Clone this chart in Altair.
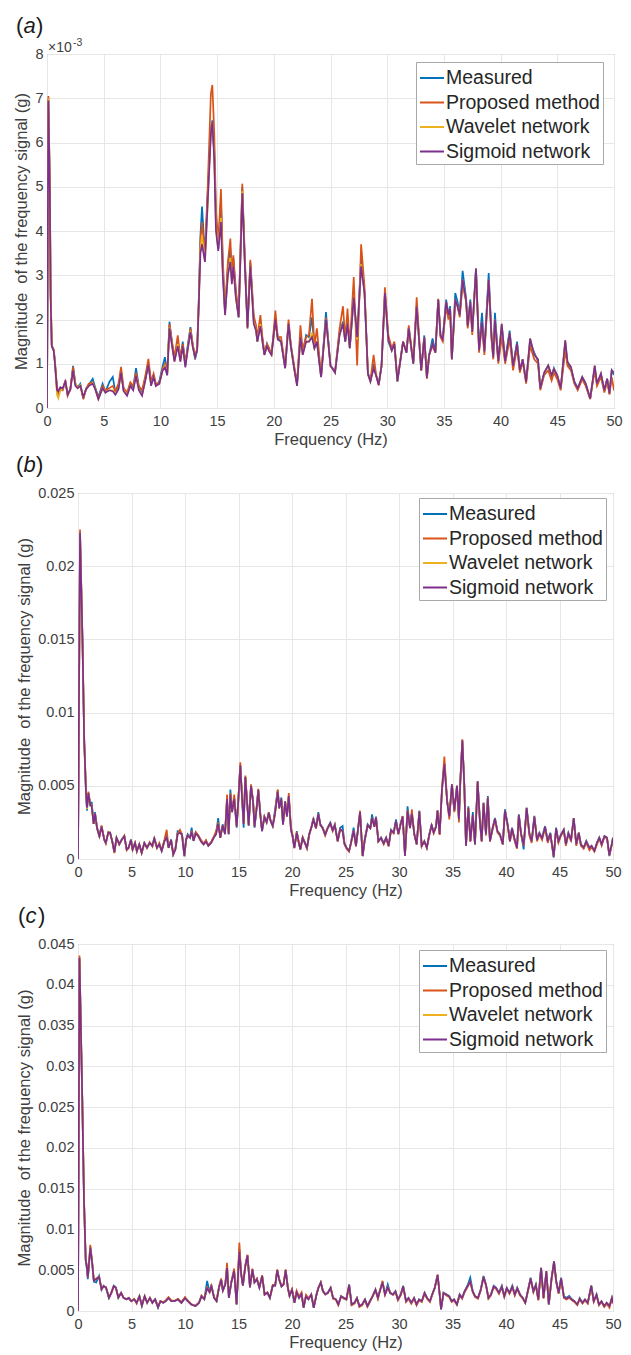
import altair as alt
import pandas as pd

FONT = "Liberation Sans"
SERIES = ["Measured", "Proposed method", "Wavelet network", "Sigmoid network"]
COLORS = ["#0072BD", "#D95319", "#EDB120", "#7E2F8E"]
FREQ_TICKS = [0, 5, 10, 15, 20, 25, 30, 35, 40, 45, 50]
Y_TITLE = "Magnitude \u00a0of the frequency signal (g)"

# ---------------- panel (a): magnitudes in 1e-3 g ----------------
FREQ_A = [
    0.0, 0.12, 0.25, 0.32, 0.42, 0.6, 0.7, 0.88, 1.0, 1.18,
    1.38, 1.62, 1.82, 2.06, 2.3, 2.5, 2.7, 2.94, 3.2, 3.44,
    3.68, 4.03, 4.26, 4.53, 4.9, 5.15, 5.5, 5.8, 6.03, 6.3,
    6.53, 6.76, 7.06, 7.35, 7.6, 7.85, 8.1, 8.38, 8.65, 8.94,
    9.18, 9.4, 9.6, 9.9, 10.2, 10.4, 10.6, 10.8, 11.03, 11.24,
    11.53, 11.76, 11.97, 12.2, 12.4, 12.65, 12.85, 13.06, 13.24, 13.38,
    13.53, 13.67, 13.93, 14.2, 14.45, 14.58, 14.75, 14.9, 15.1, 15.34,
    15.5, 15.7, 15.95, 16.17, 16.3, 16.43, 16.65, 16.9, 17.05, 17.22,
    17.45, 17.68, 17.93, 18.23, 18.43, 18.55, 18.82, 19.0, 19.17, 19.4,
    19.6, 19.8, 20.14, 20.35, 20.64, 21.0, 21.3, 21.5, 21.8, 22.05,
    22.35, 22.55, 22.85, 23.1, 23.37, 23.58, 23.8, 24.17, 24.6, 25.0,
    25.2, 25.4, 25.8, 26.1, 26.3, 26.5, 26.7, 27.05, 27.35, 27.7,
    28.0, 28.3, 28.52, 28.8, 29.0, 29.25, 29.5, 29.8, 30.1, 30.4,
    30.63, 30.9, 31.4, 31.7, 31.9, 32.3, 32.6, 33.0, 33.27, 33.5,
    33.7, 34.0, 34.25, 34.5, 34.7, 34.9, 35.2, 35.4, 35.55, 35.7,
    36.0, 36.2, 36.4, 36.65, 36.95, 37.1, 37.33, 37.5, 37.83, 38.1,
    38.36, 38.57, 38.95, 39.2, 39.35, 39.5, 39.8, 40.1, 40.4, 40.8,
    41.1, 41.45, 41.7, 41.95, 42.25, 42.6, 42.97, 43.3, 43.5, 43.85,
    44.2, 44.5, 44.7, 45.0, 45.3, 45.7, 45.9, 46.2, 46.5, 46.8,
    47.2, 47.5, 47.9, 48.3, 48.5, 48.85, 49.15, 49.4, 49.6, 49.8,
    50.0,
]
MEAS_A = [
    0, 7.0, 5.0, 2.6, 1.42, 1.3, 1.04, 0.44, 0.3, 0.45,
    0.42, 0.6, 0.3, 0.42, 0.95, 0.55, 0.47, 0.55, 0.22, 0.44,
    0.52, 0.66, 0.46, 0.25, 0.55, 0.36, 0.59, 0.7, 0.36, 0.47,
    0.8, 0.4, 0.3, 0.55, 0.44, 0.9, 0.47, 0.32, 0.66, 1.0,
    0.55, 0.74, 0.5, 0.6, 0.95, 1.15, 0.74, 1.95, 1.45, 1.1,
    1.5, 1.1, 1.5, 0.96, 1.4, 1.83, 1.42, 1.1, 1.3, 2.4,
    3.9, 4.55, 3.45, 5.0, 6.3, 6.5, 5.8, 4.3, 3.6, 4.7,
    3.2, 2.15, 3.2, 3.6, 2.9, 3.4, 2.6, 2.05, 3.4, 5.0,
    3.3, 1.85, 3.3, 2.0, 1.8, 1.5, 1.95, 1.55, 1.2, 1.45,
    1.3, 1.25, 1.95, 1.6, 1.5, 0.9, 1.9, 1.4, 0.9, 0.55,
    1.65, 1.25, 1.65, 1.6, 2.05, 1.35, 1.5, 0.7, 2.17, 0.95,
    0.9, 0.8, 1.7, 1.95, 1.5, 1.95, 1.35, 2.5, 1.6, 3.4,
    2.6, 0.8, 0.6, 1.0, 0.75, 0.55, 0.95, 2.6, 1.5, 1.3,
    1.45, 0.6, 1.5, 1.25, 1.8, 1.0, 2.3, 0.85, 1.64, 0.7,
    1.2, 1.57, 1.27, 2.45, 1.65, 1.6, 2.45, 2.1, 2.3, 1.1,
    2.6, 2.4, 2.15, 3.1, 2.5, 1.9, 2.45, 1.75, 3.15, 1.35,
    2.15, 1.3, 3.05, 1.65, 1.2, 2.15, 1.1, 1.85, 1.1, 1.75,
    0.95, 1.5, 0.85, 1.1, 0.6, 1.5, 1.25, 1.05, 0.45, 0.8,
    0.96, 0.7, 0.9, 0.72, 0.45, 1.45, 1.0, 0.9, 0.6, 0.45,
    0.7, 0.55, 0.22, 0.9, 0.55, 0.75, 0.4, 0.66, 0.33, 0.85,
    0.75,
]
PROP_A = [
    0, 7.05, 5.1, 2.7, 1.4, 1.32, 1.05, 0.5, 0.35, 0.42,
    0.4, 0.63, 0.28, 0.44, 0.93, 0.55, 0.45, 0.5, 0.2, 0.42,
    0.55, 0.58, 0.44, 0.22, 0.5, 0.4, 0.45, 0.5, 0.38, 0.55,
    0.93, 0.45, 0.35, 0.58, 0.5, 0.8, 0.5, 0.4, 0.7, 1.11,
    0.6, 0.78, 0.55, 0.55, 0.9, 1.0, 0.78, 1.9, 1.5, 1.15,
    1.64, 1.15, 1.45, 1.05, 1.34, 1.8, 1.45, 1.19, 1.34, 2.4,
    3.8, 4.2, 3.45, 5.2, 7.1, 7.3, 6.2, 4.5, 3.7, 4.95,
    3.4, 2.2, 3.3, 3.83, 3.0, 3.45, 2.7, 2.1, 3.5, 5.07,
    3.4, 1.83, 3.35, 2.1, 1.87, 1.6, 2.1, 1.6, 1.25, 1.45,
    1.35, 1.2, 2.2, 1.6, 1.6, 0.95, 2.0, 1.45, 0.95, 0.55,
    1.87, 1.3, 1.6, 1.65, 2.47, 1.4, 1.8, 0.72, 2.05, 0.96,
    0.88, 0.82, 1.8, 2.3, 1.55, 2.25, 1.4, 2.96, 0.96, 3.7,
    2.75, 0.75, 0.62, 1.2, 0.8, 0.51, 0.96, 2.73, 1.65, 1.35,
    1.5, 0.65, 1.5, 1.27, 1.87, 1.04, 2.5, 0.85, 1.6, 0.66,
    1.2, 1.4, 1.25, 2.47, 1.6, 1.5, 2.3, 2.0, 2.2, 1.1,
    2.4, 2.3, 2.05, 2.8, 2.4, 1.8, 2.3, 1.65, 3.1, 1.25,
    1.9, 1.2, 2.85, 1.55, 1.1, 1.9, 1.0, 1.6, 1.0, 1.55,
    0.85, 1.35, 0.8, 1.05, 0.55, 1.4, 1.1, 1.0, 0.4, 0.75,
    0.85, 0.62, 0.8, 0.65, 0.4, 1.3, 0.95, 0.85, 0.55, 0.4,
    0.65, 0.5, 0.2, 0.85, 0.5, 0.7, 0.35, 0.6, 0.3, 0.7,
    0.4,
]
WAVE_A = [
    0, 7.0, 5.0, 2.6, 1.4, 1.3, 1.0, 0.3, 0.22, 0.4,
    0.42, 0.6, 0.3, 0.42, 0.85, 0.55, 0.45, 0.52, 0.25, 0.42,
    0.5, 0.56, 0.42, 0.2, 0.45, 0.36, 0.4, 0.4, 0.32, 0.42,
    0.8, 0.4, 0.3, 0.5, 0.42, 0.72, 0.42, 0.3, 0.6, 0.98,
    0.52, 0.7, 0.5, 0.55, 0.85, 0.95, 0.75, 1.82, 1.4, 1.05,
    1.45, 1.05, 1.4, 0.95, 1.3, 1.75, 1.4, 1.15, 1.3, 2.3,
    3.6, 3.9, 3.3, 4.8, 6.2, 6.45, 5.7, 4.1, 3.6, 4.3,
    3.1, 2.1, 3.0, 3.4, 2.85, 3.2, 2.5, 2.05, 3.3, 4.9,
    3.2, 1.8, 3.2, 1.95, 1.75, 1.5, 1.9, 1.5, 1.2, 1.4,
    1.28, 1.2, 1.95, 1.55, 1.5, 0.9, 1.9, 1.4, 0.88, 0.5,
    1.6, 1.2, 1.5, 1.5, 1.7, 1.35, 1.5, 0.7, 2.0, 0.95,
    0.88, 0.8, 1.65, 1.9, 1.5, 1.9, 1.35, 2.5, 1.55, 3.25,
    2.6, 0.78, 0.6, 0.9, 0.75, 0.52, 0.95, 2.6, 1.55, 1.3,
    1.45, 0.6, 1.5, 1.25, 1.8, 1.0, 2.3, 0.85, 1.6, 0.68,
    1.2, 1.45, 1.25, 2.45, 1.64, 1.55, 2.4, 2.1, 2.25, 1.1,
    2.45, 2.3, 2.1, 2.9, 2.45, 1.85, 2.4, 1.7, 3.15, 1.3,
    1.95, 1.27, 2.9, 1.6, 1.15, 2.0, 1.05, 1.9, 1.05, 1.7,
    0.95, 1.45, 0.85, 1.1, 0.59, 1.57, 1.2, 1.1, 0.44, 0.8,
    0.96, 0.74, 0.88, 0.74, 0.44, 1.53, 1.04, 0.93, 0.59, 0.44,
    0.7, 0.55, 0.21, 0.96, 0.55, 0.78, 0.4, 0.66, 0.33, 0.85,
    0.8,
]
SIGM_A = [
    0, 6.95, 4.9, 2.5, 1.4, 1.28, 1.0, 0.4, 0.38, 0.47,
    0.44, 0.6, 0.3, 0.42, 0.85, 0.5, 0.45, 0.5, 0.25, 0.42,
    0.5, 0.55, 0.42, 0.2, 0.45, 0.35, 0.4, 0.38, 0.3, 0.42,
    0.8, 0.38, 0.28, 0.5, 0.4, 0.72, 0.4, 0.28, 0.6, 0.98,
    0.5, 0.7, 0.5, 0.55, 0.85, 0.92, 0.74, 1.8, 1.4, 1.05,
    1.4, 1.05, 1.4, 0.92, 1.3, 1.72, 1.38, 1.15, 1.3, 2.3,
    3.5, 3.7, 3.3, 4.8, 6.2, 6.45, 5.6, 4.0, 3.55, 4.2,
    3.0, 2.1, 3.0, 3.3, 2.8, 3.2, 2.5, 2.05, 3.3, 4.85,
    3.2, 1.8, 3.2, 1.9, 1.75, 1.5, 1.85, 1.5, 1.2, 1.4,
    1.28, 1.2, 2.0, 1.55, 1.5, 0.9, 1.9, 1.4, 0.88, 0.5,
    1.6, 1.2, 1.5, 1.5, 1.6, 1.35, 1.5, 0.7, 2.0, 0.95,
    0.88, 0.8, 1.65, 1.9, 1.5, 1.9, 1.35, 2.5, 1.6, 3.2,
    2.6, 0.78, 0.6, 0.9, 0.75, 0.52, 0.95, 2.6, 1.55, 1.3,
    1.45, 0.6, 1.5, 1.25, 1.8, 1.0, 2.3, 0.85, 1.6, 0.68,
    1.2, 1.45, 1.25, 2.45, 1.64, 1.55, 2.4, 2.1, 2.25, 1.1,
    2.45, 2.3, 2.1, 2.9, 2.45, 1.85, 2.4, 1.72, 3.15, 1.3,
    1.95, 1.27, 2.9, 1.6, 1.15, 2.0, 1.05, 1.9, 1.05, 1.7,
    0.95, 1.45, 0.85, 1.1, 0.59, 1.57, 1.2, 1.1, 0.44, 0.8,
    0.96, 0.74, 0.88, 0.74, 0.44, 1.53, 1.04, 0.93, 0.59, 0.44,
    0.7, 0.55, 0.21, 0.96, 0.55, 0.78, 0.4, 0.66, 0.33, 0.85,
    0.8,
]

# ---------------- panel (b): magnitudes in 1e-3 g ----------------
FREQ_B = [
    0.0, 0.19, 0.42, 0.58, 0.75, 0.84, 0.97, 1.15, 1.28, 1.46,
    1.59, 1.78, 2.0, 2.2, 2.46, 2.6, 2.83, 3.0, 3.2, 3.4,
    3.6, 3.86, 4.08, 4.33, 4.55, 4.73, 4.95, 5.1, 5.33, 5.5,
    5.73, 5.95, 6.2, 6.45, 6.7, 6.95, 7.13, 7.38, 7.6, 7.82,
    8.07, 8.29, 8.47, 8.7, 8.9, 9.1, 9.31, 9.53, 9.72, 9.94,
    10.1, 10.25, 10.47, 10.62, 10.8, 11.0, 11.25, 11.5, 11.74, 11.96,
    12.18, 12.43, 12.68, 12.9, 13.1, 13.3, 13.52, 13.74, 13.93, 14.08,
    14.24, 14.4, 14.6, 14.83, 15.0, 15.17, 15.33, 15.48, 15.64, 15.8,
    15.95, 16.17, 16.36, 16.5, 16.7, 16.85, 17.04, 17.2, 17.42, 17.63,
    17.83, 18.0, 18.2, 18.4, 18.67, 18.8, 19.0, 19.16, 19.36, 19.53,
    19.7, 19.9, 20.05, 20.22, 20.45, 20.6, 20.78, 21.0, 21.2, 21.4,
    21.6, 21.83, 22.0, 22.24, 22.46, 22.65, 22.87, 23.1, 23.33, 23.58,
    23.8, 24.0, 24.27, 24.5, 24.73, 24.9, 25.1, 25.33, 25.5, 25.76,
    25.98, 26.36, 26.6, 26.8, 27.07, 27.32, 27.48, 27.7, 27.85, 28.07,
    28.32, 28.57, 28.8, 29.03, 29.25, 29.5, 29.72, 29.94, 30.13, 30.34,
    30.56, 30.8, 31.03, 31.2, 31.43, 31.65, 31.9, 32.12, 32.37, 32.6,
    32.83, 33.05, 33.24, 33.46, 33.6, 33.8, 34.02, 34.24, 34.5, 34.7,
    34.95, 35.17, 35.42, 35.6, 35.73, 35.92, 36.1, 36.26, 36.48, 36.67,
    36.9, 37.1, 37.35, 37.57, 37.73, 37.9, 38.13, 38.3, 38.5, 38.75,
    38.97, 39.2, 39.44, 39.7, 39.9, 40.16, 40.37, 40.56, 40.78, 41.03,
    41.2, 41.4, 41.65, 41.93, 42.18, 42.4, 42.65, 42.9, 43.12, 43.37,
    43.65, 43.9, 44.14, 44.46, 44.68, 44.9, 45.14, 45.4, 45.6, 45.83,
    46.08, 46.33, 46.57, 46.8, 47.0, 47.26, 47.5, 47.8, 48.0, 48.26,
    48.5, 48.72, 48.94, 49.2, 49.44, 49.66, 49.88, 50.0,
]
MEAS_B = [
    0, 22.2, 14.9, 8.1, 4.4, 3.3, 4.5, 3.6, 3.9, 2.4,
    3.2, 2.1, 1.6, 2.25, 1.34, 1.1, 1.8, 1.8, 1.23, 0.5,
    1.46, 1.0, 1.34, 1.57, 0.66, 0.77, 1.34, 0.66, 1.1, 0.55,
    1.0, 0.43, 1.1, 0.77, 1.1, 0.9, 1.45, 0.77, 1.0, 0.55,
    1.23, 1.6, 0.77, 1.34, 0.32, 0.66, 1.9, 1.85, 1.7, 0.2,
    1.34, 1.7, 1.46, 2.14, 1.23, 1.8, 1.57, 1.23, 1.0, 1.23,
    0.9, 1.1, 1.46, 1.7, 2.8, 1.46, 2.37, 1.7, 4.0, 1.7,
    4.75, 3.2, 4.2, 2.14, 4.2, 6.4, 4.2, 2.14, 5.6, 3.96,
    2.25, 5.0, 3.96, 2.14, 3.5, 4.75, 3.05, 1.9, 2.9, 2.5,
    3.2, 2.6, 2.25, 3.3, 4.7, 3.5, 4.2, 2.37, 3.96, 2.9,
    4.3, 2.0, 1.57, 0.77, 1.9, 1.23, 0.66, 1.46, 1.1, 0.77,
    1.7, 2.25, 2.8, 2.14, 3.2, 2.37, 2.14, 1.7, 2.14, 2.5,
    2.0, 2.37, 1.23, 2.14, 2.25, 1.1, 0.77, 0.55, 1.1, 2.14,
    0.9, 3.1, 0.2, 1.34, 2.37, 2.14, 3.05, 2.25, 2.9, 1.23,
    1.46, 1.1, 1.46, 0.9, 2.0, 1.8, 2.7, 1.7, 2.37, 2.9,
    0.2, 3.6, 2.14, 3.1, 1.7, 1.0, 3.3, 0.9, 1.23, 0.77,
    1.7, 2.37, 1.8, 2.25, 3.3, 1.7, 4.7, 6.5, 3.96, 2.94,
    5.1, 3.3, 5.0, 2.7, 5.3, 8.1, 5.1, 0.9, 3.6, 1.23,
    3.2, 1.0, 5.3, 2.5, 1.23, 3.85, 1.7, 4.3, 1.23, 2.14,
    2.8, 1.9, 1.7, 1.0, 3.4, 2.37, 1.23, 2.14, 1.46, 0.77,
    3.05, 1.8, 0.66, 3.5, 1.8, 1.23, 2.94, 1.34, 1.8, 1.46,
    2.25, 1.23, 1.8, 0.1, 2.14, 1.23, 1.7, 2.0, 1.0, 1.8,
    1.34, 2.8, 1.0, 1.8, 1.0, 0.77, 1.23, 0.77, 0.9, 0.55,
    1.1, 1.46, 1.0, 1.57, 1.46, 0.2, 1.0, 1.46,
]
PROP_B = [
    0, 22.5, 15.0, 8.2, 4.6, 3.6, 4.6, 3.8, 3.7, 2.4,
    3.1, 2.2, 1.5, 2.3, 1.3, 1.05, 1.85, 1.75, 1.2, 0.4,
    1.4, 1.0, 1.3, 1.6, 0.6, 0.75, 1.3, 0.6, 1.1, 0.5,
    1.0, 0.4, 1.05, 0.75, 1.15, 0.85, 1.35, 0.75, 1.1, 0.6,
    1.3, 2.0, 0.75, 1.3, 0.35, 0.7, 1.75, 2.0, 1.7, 0.3,
    1.3, 1.6, 1.5, 1.9, 1.3, 1.85, 1.6, 1.3, 1.05, 1.3,
    0.95, 1.15, 1.5, 1.9, 2.5, 1.5, 2.3, 1.75, 4.4, 1.8,
    4.5, 3.3, 4.4, 2.3, 4.3, 6.6, 4.3, 2.5, 5.7, 4.0,
    2.4, 5.1, 4.0, 2.3, 3.6, 4.8, 3.1, 2.0, 2.9, 2.55,
    3.2, 2.65, 2.3, 3.1, 4.75, 3.5, 4.1, 2.4, 3.9, 2.95,
    4.5, 2.2, 1.7, 0.8, 1.85, 1.3, 0.7, 1.5, 1.1, 0.7,
    1.6, 2.2, 2.7, 2.1, 3.0, 2.3, 2.1, 1.6, 2.1, 2.4,
    1.9, 2.3, 1.2, 2.0, 1.9, 1.0, 0.7, 0.5, 1.0, 1.9,
    0.85, 3.3, 0.2, 1.3, 2.3, 2.1, 2.8, 2.2, 2.85, 1.2,
    1.4, 1.0, 1.4, 0.85, 1.9, 1.75, 2.5, 1.7, 2.3, 2.94,
    0.3, 3.3, 2.1, 3.4, 1.7, 1.0, 3.2, 0.85, 1.2, 0.75,
    1.6, 2.3, 1.75, 2.2, 3.3, 1.65, 4.9, 7.0, 4.0, 2.7,
    5.1, 3.2, 5.0, 2.5, 5.3, 8.17, 5.1, 0.9, 3.5, 1.2,
    3.0, 1.0, 5.2, 2.4, 1.2, 3.8, 1.6, 4.2, 1.2, 2.0,
    2.7, 1.8, 1.6, 1.0, 3.3, 2.2, 1.2, 2.0, 1.3, 0.7,
    3.0, 1.7, 0.9, 3.4, 1.6, 1.1, 2.8, 1.2, 1.7, 1.3,
    2.1, 1.1, 1.7, 0.2, 2.0, 1.1, 1.6, 1.9, 0.9, 1.7,
    1.2, 2.7, 0.9, 1.7, 0.9, 0.7, 1.1, 0.6, 0.8, 0.5,
    1.0, 1.4, 0.9, 1.5, 1.4, 0.3, 0.9, 1.3,
]
WAVE_B = [
    0, 22.3, 14.9, 8.1, 4.5, 3.4, 4.5, 3.7, 3.6, 2.4,
    3.1, 2.1, 1.55, 2.2, 1.3, 1.1, 1.8, 1.8, 1.2, 0.45,
    1.45, 1.0, 1.3, 1.55, 0.65, 0.77, 1.3, 0.65, 1.1, 0.55,
    1.0, 0.42, 1.1, 0.77, 1.1, 0.9, 1.4, 0.77, 1.0, 0.55,
    1.2, 1.5, 0.77, 1.3, 0.3, 0.65, 1.7, 1.8, 1.65, 0.2,
    1.3, 1.6, 1.45, 1.85, 1.25, 1.75, 1.55, 1.2, 1.0, 1.2,
    0.9, 1.1, 1.45, 1.7, 2.4, 1.45, 2.3, 1.7, 4.1, 1.7,
    4.4, 3.2, 4.1, 2.2, 4.2, 6.4, 4.2, 2.4, 5.6, 3.9,
    2.3, 5.0, 3.9, 2.2, 3.5, 4.7, 3.0, 1.9, 2.85, 2.5,
    3.15, 2.6, 2.25, 3.0, 4.6, 3.45, 4.1, 2.35, 3.9, 2.9,
    4.3, 2.0, 1.55, 0.75, 1.8, 1.2, 0.65, 1.45, 1.1, 0.75,
    1.65, 2.2, 2.7, 2.1, 3.1, 2.35, 2.1, 1.65, 2.1, 2.45,
    1.95, 2.3, 1.2, 2.05, 1.9, 1.05, 0.75, 0.55, 1.05, 1.95,
    0.9, 3.2, 0.2, 1.3, 2.3, 2.1, 2.8, 2.2, 2.85, 1.2,
    1.45, 1.05, 1.45, 0.9, 1.95, 1.8, 2.6, 1.7, 2.3, 2.9,
    0.2, 3.3, 2.1, 3.1, 1.7, 1.0, 3.25, 0.9, 1.2, 0.77,
    1.65, 2.3, 1.8, 2.2, 3.3, 1.7, 4.8, 6.5, 3.9, 2.9,
    5.1, 3.3, 5.0, 2.7, 5.3, 8.1, 5.1, 0.9, 3.5, 1.2,
    3.0, 1.0, 5.3, 2.5, 1.2, 3.8, 1.7, 4.2, 1.2, 2.1,
    2.75, 1.9, 1.65, 1.0, 3.3, 2.3, 1.2, 2.1, 1.4, 0.75,
    3.0, 1.75, 0.95, 3.5, 1.75, 1.2, 2.9, 1.3, 1.75, 1.4,
    2.2, 1.2, 1.75, 0.15, 2.1, 1.2, 1.65, 2.0, 1.0, 1.75,
    1.3, 2.8, 1.0, 1.8, 1.0, 0.77, 1.2, 0.75, 0.9, 0.55,
    1.1, 1.45, 1.0, 1.55, 1.45, 0.25, 1.0, 1.45,
]
SIGM_B = [
    0, 22.3, 14.9, 8.1, 4.5, 3.5, 4.5, 3.7, 3.6, 2.4,
    3.1, 2.1, 1.55, 2.2, 1.3, 1.1, 1.8, 1.8, 1.2, 0.45,
    1.45, 1.0, 1.3, 1.55, 0.65, 0.77, 1.3, 0.65, 1.1, 0.55,
    1.0, 0.42, 1.1, 0.77, 1.1, 0.9, 1.4, 0.77, 1.0, 0.55,
    1.2, 1.5, 0.77, 1.3, 0.3, 0.65, 1.7, 1.8, 1.65, 0.2,
    1.3, 1.6, 1.45, 1.85, 1.25, 1.75, 1.55, 1.2, 1.0, 1.2,
    0.9, 1.1, 1.45, 1.7, 2.4, 1.45, 2.3, 1.7, 4.1, 1.7,
    4.4, 3.2, 4.1, 2.2, 4.2, 6.4, 4.2, 2.4, 5.6, 3.9,
    2.3, 5.0, 3.9, 2.2, 3.5, 4.7, 3.0, 1.9, 2.85, 2.5,
    3.15, 2.6, 2.25, 3.0, 4.6, 3.45, 4.1, 2.35, 3.9, 2.9,
    4.3, 2.0, 1.55, 0.75, 1.8, 1.2, 0.65, 1.45, 1.1, 0.75,
    1.65, 2.2, 2.7, 2.1, 3.1, 2.35, 2.1, 1.65, 2.1, 2.45,
    1.95, 2.3, 1.2, 2.05, 1.9, 1.05, 0.75, 0.55, 1.05, 1.95,
    0.9, 3.2, 0.2, 1.3, 2.3, 2.1, 2.8, 2.2, 2.85, 1.2,
    1.45, 1.05, 1.45, 0.9, 1.95, 1.8, 2.6, 1.7, 2.3, 2.9,
    0.2, 3.3, 2.1, 3.1, 1.7, 1.0, 3.25, 0.9, 1.2, 0.77,
    1.65, 2.3, 1.8, 2.2, 3.3, 1.7, 4.8, 6.5, 3.9, 2.9,
    5.1, 3.3, 5.0, 2.7, 5.3, 8.1, 5.1, 0.9, 3.5, 1.2,
    3.0, 1.0, 5.3, 2.5, 1.2, 3.8, 1.7, 4.2, 1.2, 2.1,
    2.75, 1.9, 1.65, 1.0, 3.3, 2.3, 1.2, 2.1, 1.4, 0.75,
    3.0, 1.75, 0.95, 3.5, 1.75, 1.2, 2.9, 1.3, 1.75, 1.4,
    2.2, 1.2, 1.75, 0.15, 2.1, 1.2, 1.65, 2.0, 1.0, 1.75,
    1.3, 2.8, 1.0, 1.8, 1.0, 0.77, 1.2, 0.75, 0.9, 0.55,
    1.1, 1.45, 1.0, 1.55, 1.45, 0.25, 1.0, 1.45,
]

# ---------------- panel (c): magnitudes in 1e-3 g ----------------
FREQ_C = [
    0.0, 0.14, 0.4, 0.56, 0.72, 0.82, 0.92, 1.15, 1.31, 1.48,
    1.7, 1.97, 2.2, 2.39, 2.62, 2.89, 3.11, 3.34, 3.54, 3.77,
    4.03, 4.26, 4.52, 4.75, 4.98, 5.25, 5.48, 5.74, 5.97, 6.23,
    6.46, 6.72, 6.95, 7.21, 7.48, 7.7, 7.97, 8.2, 8.46, 8.72,
    9.02, 9.34, 9.67, 10.0, 10.26, 10.59, 10.98, 11.31, 11.54, 11.8,
    12.07, 12.3, 12.46, 12.72, 12.95, 13.18, 13.38, 13.54, 13.77, 13.93,
    14.1, 14.33, 14.59, 14.82, 15.08, 15.25, 15.41, 15.64, 15.84, 16.07,
    16.3, 16.49, 16.72, 16.95, 17.21, 17.44, 17.7, 17.93, 18.2, 18.43,
    18.62, 18.79, 19.02, 19.21, 19.41, 19.61, 19.77, 20.0, 20.23, 20.43,
    20.66, 20.89, 21.08, 21.31, 21.54, 21.8, 22.03, 22.3, 22.46, 22.69,
    22.89, 23.11, 23.34, 23.61, 23.84, 24.1, 24.33, 24.59, 24.85, 25.08,
    25.34, 25.57, 25.84, 26.07, 26.3, 26.56, 26.82, 27.05, 27.28, 27.54,
    27.8, 28.03, 28.2, 28.46, 28.69, 28.95, 29.18, 29.44, 29.67, 29.9,
    30.16, 30.39, 30.66, 30.89, 31.15, 31.41, 31.64, 31.87, 32.13, 32.39,
    32.62, 32.89, 33.11, 33.34, 33.61, 33.77, 33.93, 34.16, 34.43, 34.69,
    34.92, 35.15, 35.41, 35.67, 35.9, 36.13, 36.39, 36.66, 36.89, 37.11,
    37.38, 37.64, 37.9, 38.13, 38.36, 38.59, 38.85, 39.08, 39.34, 39.61,
    39.84, 40.07, 40.33, 40.59, 40.82, 41.05, 41.31, 41.57, 41.8, 42.07,
    42.3, 42.56, 42.79, 43.02, 43.28, 43.51, 43.77, 44.0, 44.26, 44.49,
    44.69, 44.92, 45.15, 45.41, 45.64, 45.9, 46.16, 46.39, 46.66, 46.89,
    47.15, 47.38, 47.64, 47.97, 48.2, 48.46, 48.69, 48.92, 49.18, 49.41,
    49.67, 49.9, 50.0,
]
MEAS_C = [
    0, 43.2, 25.9, 13.6, 6.2, 5.2, 3.9, 7.6, 6.1, 3.6,
    3.5, 4.3, 2.6, 3.1, 2.8, 1.6, 2.25, 3.1, 2.9, 1.6,
    2.25, 1.6, 1.43, 1.6, 1.2, 1.43, 1.0, 1.84, 0.6, 1.84,
    1.0, 1.6, 1.0, 1.43, 0.4, 1.2, 1.0, 1.2, 1.6, 1.2,
    1.2, 1.43, 1.0, 1.6, 1.2, 0.8, 0.6, 1.0, 1.84, 1.43,
    3.7, 2.25, 3.27, 1.6, 1.2, 2.86, 3.9, 2.45, 3.27, 5.4,
    1.6, 3.5, 4.9, 0.8, 7.6, 4.5, 3.1, 5.5, 6.8, 2.9,
    5.1, 3.5, 3.9, 2.86, 4.3, 2.0, 2.25, 1.6, 3.1, 3.1,
    5.0, 3.9, 3.0, 3.27, 5.0, 2.86, 1.84, 2.6, 1.0, 2.25,
    1.6, 2.05, 0.4, 1.84, 1.43, 2.05, 0.4, 2.05, 2.86, 3.5,
    2.45, 2.05, 2.25, 2.86, 1.6, 1.43, 0.8, 1.84, 1.6, 1.43,
    3.27, 0.8, 1.0, 1.6, 0.6, 0.8, 1.43, 0.6, 1.2, 1.84,
    2.66, 1.6, 2.45, 3.6, 2.05, 3.27, 2.25, 2.05, 2.45, 1.43,
    2.05, 3.1, 1.2, 1.6, 1.0, 1.6, 0.8, 1.43, 1.2, 2.25,
    1.6, 1.2, 2.05, 2.86, 4.4, 2.45, 0.2, 2.25, 2.05, 1.84,
    1.2, 1.43, 0.8, 2.05, 1.6, 2.45, 3.1, 4.1, 2.45, 1.84,
    1.6, 2.66, 4.3, 3.27, 1.6, 2.05, 3.1, 2.86, 2.25, 3.1,
    1.84, 2.86, 2.25, 3.1, 2.05, 2.86, 2.05, 1.6, 1.0, 2.66,
    4.1, 2.45, 3.27, 1.43, 5.3, 1.6, 4.9, 0.8, 4.1, 6.1,
    3.7, 2.25, 4.1, 1.84, 1.6, 1.84, 1.43, 1.2, 0.8, 1.6,
    1.0, 1.43, 1.0, 3.1, 1.2, 2.05, 0.8, 1.2, 0.6, 1.0,
    0.6, 1.6, 1.0,
]
PROP_C = [
    0, 43.6, 26.0, 13.8, 6.4, 5.7, 4.2, 8.1, 6.2, 3.8,
    4.0, 4.2, 2.7, 3.0, 2.9, 1.7, 2.2, 3.0, 2.8, 1.7,
    2.2, 1.65, 1.45, 1.55, 1.2, 1.5, 0.9, 1.8, 0.7, 1.8,
    1.0, 1.6, 1.1, 1.4, 0.6, 1.2, 1.1, 1.3, 1.7, 1.3,
    1.25, 1.5, 1.1, 1.7, 1.3, 0.85, 0.65, 1.05, 1.9, 1.5,
    2.9, 2.4, 3.1, 1.7, 1.3, 3.0, 4.0, 2.6, 3.4, 5.9,
    1.8, 3.6, 5.2, 0.9, 8.4, 4.7, 3.2, 5.7, 6.9, 3.0,
    5.2, 3.6, 4.0, 2.9, 4.4, 2.1, 2.3, 1.7, 3.2, 3.2,
    5.1, 4.0, 3.1, 3.3, 5.1, 2.9, 1.9, 2.7, 1.2, 2.5,
    1.8, 2.3, 0.5, 2.0, 1.6, 2.0, 0.5, 2.1, 2.8, 3.5,
    2.4, 2.0, 2.2, 2.8, 1.5, 1.4, 0.7, 1.8, 1.5, 1.4,
    3.1, 0.7, 0.9, 1.5, 0.5, 0.7, 1.3, 0.5, 1.1, 1.9,
    2.6, 1.5, 2.4, 3.7, 2.0, 2.9, 2.2, 2.0, 2.3, 1.3,
    1.9, 2.9, 1.1, 1.5, 0.9, 1.5, 0.7, 1.3, 1.1, 2.1,
    1.5, 1.1, 2.0, 2.8, 4.5, 2.4, 0.3, 2.2, 1.9, 1.7,
    1.1, 1.3, 0.8, 1.9, 1.5, 2.3, 2.9, 3.6, 2.3, 1.7,
    1.5, 2.5, 4.1, 3.1, 1.5, 1.9, 2.9, 2.7, 2.1, 2.9,
    1.7, 2.7, 2.1, 2.9, 1.9, 2.7, 1.9, 1.5, 1.0, 2.5,
    3.9, 2.3, 3.1, 1.3, 5.1, 1.5, 4.7, 0.8, 3.9, 5.9,
    3.5, 2.1, 3.9, 1.6, 1.4, 1.6, 1.3, 1.1, 0.7, 1.4,
    0.9, 1.3, 0.9, 3.0, 1.1, 1.9, 0.7, 1.1, 0.5, 0.9,
    0.4, 1.5, 0.9,
]
WAVE_C = [
    0, 43.3, 25.9, 13.6, 6.2, 5.5, 4.1, 7.8, 6.1, 3.7,
    3.9, 4.2, 2.66, 3.05, 2.9, 1.6, 2.2, 3.05, 2.85, 1.65,
    2.2, 1.6, 1.43, 1.6, 1.2, 1.43, 1.0, 1.8, 0.65, 1.8,
    1.0, 1.6, 1.0, 1.43, 0.5, 1.2, 1.0, 1.2, 1.6, 1.2,
    1.2, 1.43, 1.0, 1.6, 1.2, 0.8, 0.6, 1.0, 1.8, 1.45,
    2.8, 2.3, 3.1, 1.6, 1.2, 2.9, 3.8, 2.5, 3.3, 5.3,
    1.6, 3.5, 4.9, 0.8, 7.3, 4.5, 3.1, 5.5, 6.8, 2.9,
    5.1, 3.5, 3.9, 2.85, 4.3, 2.0, 2.25, 1.6, 3.1, 3.1,
    5.0, 3.9, 3.0, 3.25, 5.0, 2.85, 1.85, 2.6, 1.0, 2.3,
    1.6, 2.1, 0.4, 1.8, 1.45, 2.0, 0.4, 2.05, 2.8, 3.5,
    2.45, 2.05, 2.2, 2.85, 1.6, 1.43, 0.8, 1.8, 1.6, 1.43,
    3.2, 0.8, 1.0, 1.6, 0.6, 0.8, 1.4, 0.6, 1.2, 1.8,
    2.6, 1.6, 2.4, 3.5, 2.0, 2.9, 2.2, 2.0, 2.4, 1.4,
    2.0, 3.0, 1.2, 1.6, 1.0, 1.6, 0.8, 1.4, 1.2, 2.2,
    1.6, 1.2, 2.05, 2.85, 4.4, 2.45, 0.2, 2.2, 2.0, 1.8,
    1.2, 1.4, 0.8, 2.0, 1.6, 2.4, 3.0, 3.6, 2.4, 1.8,
    1.6, 2.6, 4.2, 3.2, 1.6, 2.0, 3.0, 2.8, 2.2, 3.0,
    1.8, 2.8, 2.2, 3.0, 2.0, 2.8, 2.0, 1.6, 1.0, 2.6,
    4.0, 2.4, 3.2, 1.4, 5.3, 1.6, 4.9, 0.8, 4.0, 6.1,
    3.7, 2.2, 4.0, 1.7, 1.5, 1.7, 1.4, 1.2, 0.8, 1.5,
    1.0, 1.4, 1.0, 3.1, 1.2, 2.0, 0.8, 1.2, 0.6, 1.0,
    0.6, 1.6, 1.0,
]
SIGM_C = [
    0, 43.3, 25.9, 13.6, 6.2, 5.5, 4.1, 7.8, 6.1, 3.7,
    3.9, 4.2, 2.66, 3.05, 2.9, 1.6, 2.2, 3.05, 2.85, 1.65,
    2.2, 1.6, 1.43, 1.6, 1.2, 1.43, 1.0, 1.8, 0.65, 1.8,
    1.0, 1.6, 1.0, 1.43, 0.45, 1.2, 1.0, 1.2, 1.6, 1.2,
    1.2, 1.43, 1.0, 1.6, 1.2, 0.8, 0.6, 1.0, 1.8, 1.45,
    2.8, 2.3, 3.1, 1.6, 1.2, 2.9, 3.8, 2.5, 3.3, 5.3,
    1.6, 3.5, 4.9, 0.8, 7.3, 4.5, 3.1, 5.5, 6.8, 2.9,
    5.1, 3.5, 3.9, 2.85, 4.3, 2.0, 2.25, 1.6, 3.1, 3.1,
    5.0, 3.9, 3.0, 3.25, 5.0, 2.85, 1.85, 2.6, 1.0, 2.3,
    1.6, 2.1, 0.4, 1.8, 1.45, 2.0, 0.4, 2.05, 2.8, 3.5,
    2.45, 2.05, 2.2, 2.85, 1.6, 1.43, 0.8, 1.8, 1.6, 1.43,
    3.2, 0.8, 1.0, 1.6, 0.6, 0.8, 1.4, 0.6, 1.2, 1.8,
    2.6, 1.6, 2.4, 3.5, 2.0, 2.9, 2.2, 2.0, 2.4, 1.4,
    2.0, 3.0, 1.2, 1.6, 1.0, 1.6, 0.8, 1.4, 1.2, 2.2,
    1.6, 1.2, 2.05, 2.85, 4.4, 2.45, 0.2, 2.2, 2.0, 1.8,
    1.2, 1.4, 0.8, 2.0, 1.6, 2.4, 3.0, 3.6, 2.4, 1.8,
    1.6, 2.6, 4.2, 3.2, 1.6, 2.0, 3.0, 2.8, 2.2, 3.0,
    1.8, 2.8, 2.2, 3.0, 2.0, 2.8, 2.0, 1.6, 1.0, 2.6,
    4.0, 2.4, 3.2, 1.4, 5.3, 1.6, 4.9, 0.8, 4.0, 6.1,
    3.7, 2.2, 4.0, 1.7, 1.5, 1.7, 1.4, 1.2, 0.8, 1.5,
    1.0, 1.4, 1.0, 3.1, 1.2, 2.0, 0.8, 1.2, 0.6, 1.0,
    0.6, 1.6, 1.0,
]


def long_table(freq, columns, unit):
    rows = []
    for name, values in zip(SERIES, columns):
        assert len(values) == len(freq), name
        for f, v in zip(freq, values):
            rows.append({"freq": f, "mag": round(v * unit, 9), "series": name})
    return pd.DataFrame(rows)


def text_layer(txt, dx, dy, size, style="normal", color="#1a1a1a"):
    return alt.Chart(pd.DataFrame({"t": [txt]})).mark_text(
        align="left", baseline="alphabetic", font=FONT, fontSize=size,
        fontStyle=style, color=color,
    ).encode(x=alt.value(dx), y=alt.value(dy), text="t:N")


def spectrum_panel(df, width, height, ymax, yticks, yfmt, letter, tag_x, tag_y,
                   legend_x, legend_y, extras=()):
    color = alt.Color(
        "series:N",
        scale=alt.Scale(domain=SERIES, range=COLORS),
        legend=alt.Legend(
            title=None, orient="none", legendX=legend_x, legendY=legend_y,
            direction="vertical", symbolType="stroke", symbolSize=576,
            symbolStrokeWidth=2, labelFont=FONT, labelFontSize=19.5,
            labelColor="#262626", labelOffset=1, labelLimit=400,
            fillColor="white", strokeColor="#a8a8a8", padding=3,
            rowPadding=1.5,
        ),
    )
    x = alt.X(
        "freq:Q",
        scale=alt.Scale(domain=[0, 50], nice=False, zero=False),
        axis=alt.Axis(
            values=FREQ_TICKS, format="d", title="Frequency (Hz)",
            labelFlush=False, labelPadding=6, titlePadding=4,
        ),
    )
    y = alt.Y(
        "mag:Q",
        scale=alt.Scale(domain=[0, ymax], nice=False),
        axis=alt.Axis(
            values=yticks, format=yfmt, title=Y_TITLE, labelFlush=False,
            labelPadding=4, titlePadding=5,
        ),
    )
    lines = [
        alt.Chart(df)
        .transform_filter(alt.datum.series == name)
        .mark_line(strokeWidth=1.7, clip=True)
        .encode(x=x, y=y, color=color)
        for name in SERIES
    ]
    tag = [
        text_layer("(", tag_x, tag_y, 22),
        text_layer(letter, tag_x + 7.4, tag_y, 22, style="italic"),
        text_layer(")", tag_x + 7.4 + 12.6, tag_y, 22),
    ]
    return alt.layer(*lines, *tag, *extras).properties(width=width, height=height)


def spacer(height):
    return alt.Chart(pd.DataFrame({"v": [0]})).mark_point(opacity=0).encode(
        x=alt.X("v:Q", axis=None), y=alt.Y("v:Q", axis=None)
    ).properties(width=1, height=height,
                 view=alt.ViewBackground(stroke="transparent"))


df_a = long_table(FREQ_A, [MEAS_A, PROP_A, WAVE_A, SIGM_A], 1.0)
df_b = long_table(FREQ_B, [MEAS_B, PROP_B, WAVE_B, SIGM_B], 1e-3)
df_c = long_table(FREQ_C, [MEAS_C, PROP_C, WAVE_C, SIGM_C], 1e-3)

exponent = [
    text_layer("\u00d710", 1, -2, 14, color="#404040"),
    text_layer("-3", 26, -8, 10.5, color="#404040"),
]

# legends of the lower rows are placed relative to the row (spacer) origin
panel_a = spectrum_panel(df_a, 567, 354, 8, list(range(0, 9)), "d", "a",
                         -31, -21, 369, 8, extras=exponent)
panel_b = spectrum_panel(df_b, 535, 366, 0.025,
                         [0, 0.005, 0.01, 0.015, 0.02, 0.025], ".3~f", "b",
                         -62, -21, 372, 5)
panel_c = spectrum_panel(df_c, 535, 367, 0.045,
                         [0, 0.005, 0.01, 0.015, 0.02, 0.025, 0.03, 0.035, 0.04, 0.045],
                         ".3~f", "c", -60, -21, 372, 6)

row_b = alt.hconcat(spacer(366), panel_b, spacing=30, bounds="flush")
row_c = alt.hconcat(spacer(367), panel_c, spacing=30, bounds="flush")

chart = (
    alt.vconcat(panel_a, row_b, row_c, spacing=4)
    .resolve_scale(color="independent")
    .resolve_legend(color="independent")
    .properties(padding={"left": 13, "top": 14, "right": 4, "bottom": 4})
    .configure(background="white", font=FONT)
    .configure_view(stroke="#a6a6a6", strokeWidth=1)
    .configure_axis(
        grid=True, gridColor="#e6e6e6", gridWidth=1, ticks=False, domain=False,
        labelFont=FONT, labelFontSize=14.5, labelColor="#404040",
        titleFont=FONT, titleFontSize=16.5, titleColor="#404040",
        titleFontWeight="normal",
    )
)

chart.save("out.html", embed_options={"renderer": "svg", "actions": False})
